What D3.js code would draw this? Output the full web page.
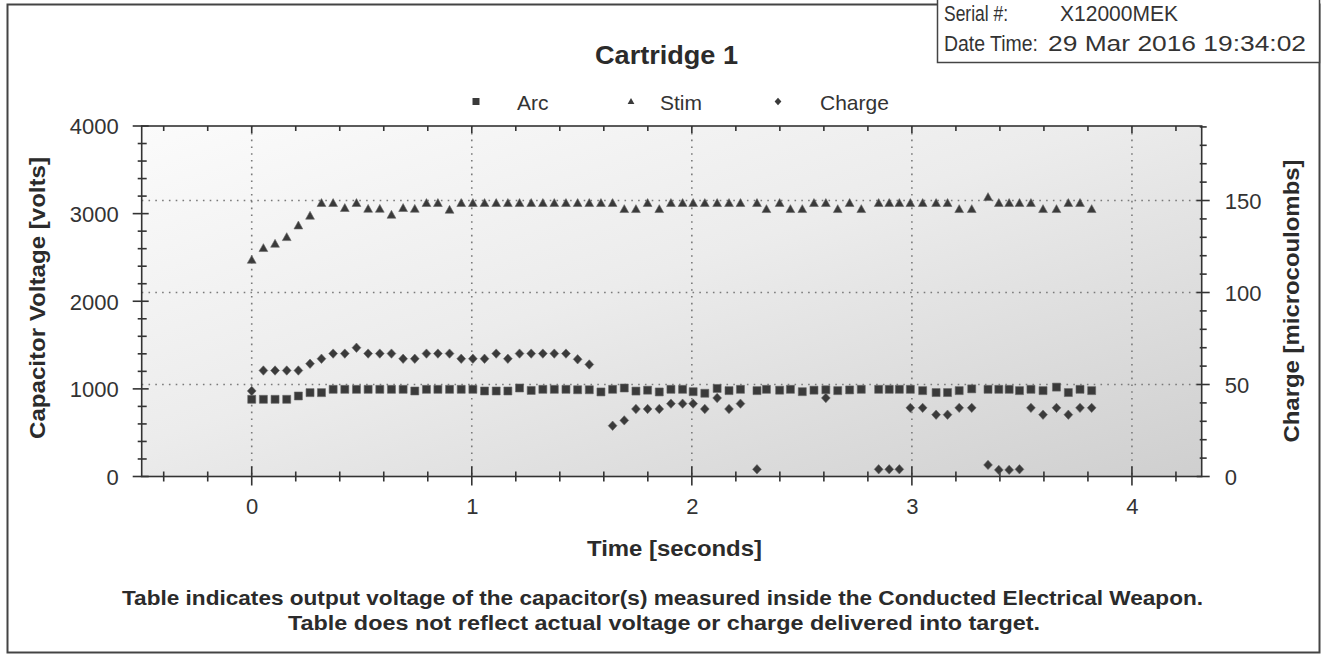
<!DOCTYPE html>
<html>
<head>
<meta charset="utf-8">
<script src="https://cdn.jsdelivr.net/npm/d3@7"></script>
<style>
  html, body { margin: 0; padding: 0; background: #ffffff; }
  svg { display: block; font-family: "Liberation Sans", Arial, sans-serif; }
</style>
</head>
<body>
<svg id="chart" width="1323" height="658"></svg>
<script>
// ---------------- data ----------------
const times = [0, 0.053, 0.106, 0.159, 0.212, 0.265, 0.317, 0.370, 0.423, 0.476,
  0.529, 0.582, 0.635, 0.688, 0.741, 0.794, 0.846, 0.899, 0.952, 1.005,
  1.058, 1.111, 1.164, 1.217, 1.270, 1.323, 1.375, 1.428, 1.481, 1.534,
  1.587, 1.640, 1.693, 1.746, 1.799, 1.852, 1.905, 1.958, 2.006, 2.059,
  2.115, 2.169, 2.221, 2.296, 2.339, 2.399, 2.448, 2.502, 2.555, 2.609,
  2.663, 2.717, 2.770, 2.849, 2.897, 2.943, 2.993, 3.049, 3.110, 3.162,
  3.215, 3.272, 3.346, 3.395, 3.442, 3.489, 3.541, 3.596, 3.657, 3.711,
  3.764, 3.817];

const stimVolts = [2471, 2605, 2654, 2730, 2863, 2974, 3119, 3119, 3062, 3119,
  3053, 3053, 2985, 3062, 3053, 3119, 3119, 3042, 3119, 3119,
  3119, 3119, 3119, 3119, 3119, 3119, 3119, 3119, 3119, 3119,
  3119, 3119, 3050, 3050, 3119, 3050, 3119, 3119, 3119, 3119,
  3119, 3119, 3119, 3119, 3050, 3119, 3050, 3050, 3119, 3119,
  3050, 3119, 3050, 3119, 3119, 3119, 3119, 3119, 3119, 3119,
  3050, 3050, 3187, 3119, 3119, 3119, 3119, 3050, 3050, 3119,
  3119, 3050];

const arcVolts = [881, 881, 881, 881, 919, 957, 957, 995, 995, 995,
  995, 995, 995, 995, 976, 995, 995, 995, 995, 995,
  976, 976, 976, 1010, 982, 995, 995, 995, 990, 990,
  965, 995, 1010, 975, 985, 965, 995, 995, 968, 950,
  1005, 980, 995, 980, 995, 985, 995, 968, 985, 990,
  980, 988, 995, 995, 995, 995, 995, 980, 958, 958,
  980, 1000, 995, 995, 995, 980, 995, 980, 1020, 958,
  995, 980];

const chargeMicroC = [46.5, 57.6, 57.6, 57.6, 57.6, 61.3, 64, 66.8, 66.8, 70,
  66.8, 66.8, 66.8, 64, 64, 66.8, 66.8, 66.8, 64, 64,
  64, 66.8, 64, 66.8, 66.8, 66.8, 66.8, 66.8, 63.7, 60.9,
  null, 27.6, 30.5, 36.7, 36.7, 36.7, 39.6, 39.6, 39.6, 36.7,
  42.7, 36.7, 39.6, 3.9, null, null, null, null, null, 42.7,
  null, null, null, 3.9, 3.9, 3.9, 37.3, 37.3, 33.6, 33.6,
  37.3, 37.3, 6.3, 3.6, 3.6, 3.9, 37.3, 33.6, 37.3, 33.6,
  37.3, 37.3];

const seriesNames = ["Arc", "Stim", "Charge"];
const xTickValues = [0, 1, 2, 3, 4];
const voltTickValues = [0, 1000, 2000, 3000, 4000];
const chargeTickValues = [0, 50, 100, 150];
const titleText = "Cartridge 1";
const serialLabel = "Serial #:";
const serialValue = "X12000MEK";
const dateLabel = "Date Time:";
const dateValue = "29 Mar 2016 19:34:02";
const xTitle = "Time [seconds]";
const yLeftTitle = "Capacitor Voltage [volts]";
const yRightTitle = "Charge [microcoulombs]";
const footLines = [
  "Table indicates output voltage of the capacitor(s) measured inside the Conducted Electrical Weapon.",
  "Table does not reflect actual voltage or charge delivered into target."
];

// ---------------- layout ----------------
const svg = d3.select("#chart");
const P = { left: 141.7, right: 1201.7, top: 126, bottom: 476.5 };
const x = d3.scaleLinear().domain([-0.5, times[times.length - 1] + 0.5]).range([P.left, P.right]);
const yL = d3.scaleLinear().domain([0, 4000]).range([P.bottom, P.top]);
const yR = d3.scaleLinear().domain([0, 190.5]).range([P.bottom, P.top]);
const ink = "#2b2b2b";
const markColor = "#3a3a3a";

// outer frame
svg.append("rect").attr("x", 7.5).attr("y", 4.5).attr("width", 1312).attr("height", 648)
  .attr("fill", "none").attr("stroke", "#444").attr("stroke-width", 2);

// serial box
svg.append("rect").attr("x", 937.5).attr("y", -2).attr("width", 382).attr("height", 64.5)
  .attr("fill", "#fff").attr("stroke", "#444").attr("stroke-width", 1.5);
const sb = svg.append("g").attr("font-size", 22).attr("fill", "#333");
sb.append("text").attr("x", 944).attr("y", 21).attr("textLength", 64).attr("lengthAdjust", "spacingAndGlyphs").text(serialLabel);
sb.append("text").attr("x", 1060).attr("y", 21).attr("textLength", 118).attr("lengthAdjust", "spacingAndGlyphs").text(serialValue);
sb.append("text").attr("x", 944).attr("y", 51).attr("textLength", 94).attr("lengthAdjust", "spacingAndGlyphs").text(dateLabel);
sb.append("text").attr("x", 1048).attr("y", 51).attr("textLength", 258).attr("lengthAdjust", "spacingAndGlyphs").text(dateValue);

// title
svg.append("text").attr("x", 666.5).attr("y", 63.5).attr("text-anchor", "middle")
  .attr("font-size", 25).attr("font-weight", "bold").attr("fill", ink)
  .attr("textLength", 143).attr("lengthAdjust", "spacingAndGlyphs").text(titleText);

// plot background gradient
const defs = svg.append("defs");
const grad = defs.append("linearGradient").attr("id", "bg")
  .attr("x1", "0").attr("y1", "0").attr("x2", "1").attr("y2", "1");
grad.append("stop").attr("offset", "0%").attr("stop-color", "#fbfbfb");
grad.append("stop").attr("offset", "45%").attr("stop-color", "#ececec");
grad.append("stop").attr("offset", "100%").attr("stop-color", "#cfcfcf");
svg.append("rect").attr("x", P.left).attr("y", P.top)
  .attr("width", P.right - P.left).attr("height", P.bottom - P.top).attr("fill", "url(#bg)");

// gridlines (dotted)
const grid = svg.append("g").attr("stroke", "#7a7a7a").attr("stroke-width", 1.6)
  .attr("stroke-dasharray", "1.6,5.2").attr("stroke-linecap", "butt");
xTickValues.forEach(v => {
  grid.append("line").attr("x1", x(v)).attr("x2", x(v)).attr("y1", P.top).attr("y2", P.bottom);
});
chargeTickValues.filter(v => v > 0).forEach(v => {
  grid.append("line").attr("x1", P.left).attr("x2", P.right).attr("y1", yR(v)).attr("y2", yR(v));
});

// axes lines (frame of plot)
const ax = svg.append("g").attr("stroke", "#333").attr("stroke-width", 1.6).attr("fill", "none");
ax.append("rect").attr("x", P.left).attr("y", P.top).attr("width", P.right - P.left).attr("height", P.bottom - P.top);

// x ticks: minor every 0.2, major at integers (bottom crossing, top inward)
const xMinor = d3.range(-2, Math.floor(x.domain()[1] * 5) + 1).map(k => k / 5);
xMinor.forEach(v => {
  const major = Math.abs(v - Math.round(v)) < 1e-6;
  ax.append("line").attr("x1", x(v)).attr("x2", x(v))
    .attr("y1", P.bottom - (major ? 10 : 5)).attr("y2", P.bottom + (major ? 9 : 5));
  ax.append("line").attr("x1", x(v)).attr("x2", x(v))
    .attr("y1", P.top).attr("y2", P.top + (major ? 7 : 5));
});
// left ticks: minor every 200
d3.range(0, 4001, 200).forEach(v => {
  const major = v % 1000 === 0;
  ax.append("line").attr("y1", yL(v)).attr("y2", yL(v))
    .attr("x1", P.left - (major ? 9 : 4)).attr("x2", P.left + (major ? 7 : 5));
});
// right ticks: minor every 10
d3.range(0, 191, 10).forEach(v => {
  const major = v % 50 === 0;
  ax.append("line").attr("y1", yR(v)).attr("y2", yR(v))
    .attr("x1", P.right - (major ? 5 : 2)).attr("x2", P.right + (major ? 8 : 5));
});

// axis labels via d3 axes (lines hidden)
const xAxis = svg.append("g").attr("transform", `translate(0,${P.bottom})`)
  .call(d3.axisBottom(x).tickValues(xTickValues).tickSize(0).tickPadding(22).tickFormat(d3.format("d")));
const yAxisL = svg.append("g").attr("transform", `translate(${P.left},0)`)
  .call(d3.axisLeft(yL).tickValues(voltTickValues).tickSize(0).tickPadding(23).tickFormat(d3.format("d")));
const yAxisR = svg.append("g").attr("transform", `translate(${P.right},0)`)
  .call(d3.axisRight(yR).tickValues(chargeTickValues).tickSize(0).tickPadding(23).tickFormat(d3.format("d")));
[xAxis, yAxisL, yAxisR].forEach(g => {
  g.select(".domain").remove();
  g.selectAll("text").attr("font-size", 22).attr("fill", "#333")
    .attr("font-family", "'Liberation Sans', Arial, sans-serif");
});
yAxisL.selectAll("text").attr("dy", "0.36em");
yAxisR.selectAll("text").attr("dy", "0.36em");

// axis titles
svg.append("text").attr("x", 674.5).attr("y", 556).attr("text-anchor", "middle")
  .attr("font-size", 22).attr("font-weight", "bold").attr("fill", ink)
  .attr("textLength", 175).attr("lengthAdjust", "spacingAndGlyphs").text(xTitle);
svg.append("text").attr("transform", "translate(45,298) rotate(-90)").attr("text-anchor", "middle")
  .attr("font-size", 22).attr("font-weight", "bold").attr("fill", ink)
  .attr("textLength", 282).attr("lengthAdjust", "spacingAndGlyphs").text(yLeftTitle);
svg.append("text").attr("transform", "translate(1299,301) rotate(-90)").attr("text-anchor", "middle")
  .attr("font-size", 22).attr("font-weight", "bold").attr("fill", ink)
  .attr("textLength", 283).attr("lengthAdjust", "spacingAndGlyphs").text(yRightTitle);

// footnote
svg.append("text").attr("x", 662.5).attr("y", 605).attr("text-anchor", "middle")
  .attr("font-size", 20).attr("font-weight", "bold").attr("fill", ink)
  .attr("textLength", 1081).attr("lengthAdjust", "spacingAndGlyphs").text(footLines[0]);
svg.append("text").attr("x", 664).attr("y", 630).attr("text-anchor", "middle")
  .attr("font-size", 20).attr("font-weight", "bold").attr("fill", ink)
  .attr("textLength", 752).attr("lengthAdjust", "spacingAndGlyphs").text(footLines[1]);

// marker shapes
const shapes = {
  Arc: "M-4,-4H4V4H-4Z",
  Stim: "M0,-4.6L4.4,3.3H-4.4Z",
  Charge: "M0,-4.7L4.4,0L0,4.7L-4.4,0Z"
};
const legendShapes = {
  Arc: "M-3.5,-3.5H3.5V3.5H-3.5Z",
  Stim: "M0,-3.5L3.4,2.6H-3.4Z",
  Charge: "M0,-3.8L3.4,0L0,3.8L-3.4,0Z"
};

// data points
const points = svg.append("g");
const series = [
  { name: "Arc", values: arcVolts, scale: yL },
  { name: "Stim", values: stimVolts, scale: yL },
  { name: "Charge", values: chargeMicroC, scale: yR }
];
series.forEach(s => {
  const data = times.map((t, i) => ({ t, v: s.values[i] })).filter(d => d.v !== null);
  points.selectAll(null).data(data).enter().append("path")
    .attr("d", shapes[s.name])
    .attr("transform", d => `translate(${x(d.t)},${s.scale(d.v)})`)
    .attr("fill", markColor).attr("stroke", "#666").attr("stroke-width", 0.6);
});

// legend
const legendPos = [
  { mx: 476, tx: 517 },
  { mx: 631, tx: 660 },
  { mx: 778, tx: 820 }
];
const lg = svg.append("g");
seriesNames.forEach((n, i) => {
  lg.append("path").attr("d", legendShapes[n])
    .attr("transform", `translate(${legendPos[i].mx},101.5)`).attr("fill", "#3a3a3a");
  lg.append("text").attr("x", legendPos[i].tx).attr("y", 109.5)
    .attr("font-size", 21).attr("fill", "#333").text(n);
});
</script>
</body>
</html>
